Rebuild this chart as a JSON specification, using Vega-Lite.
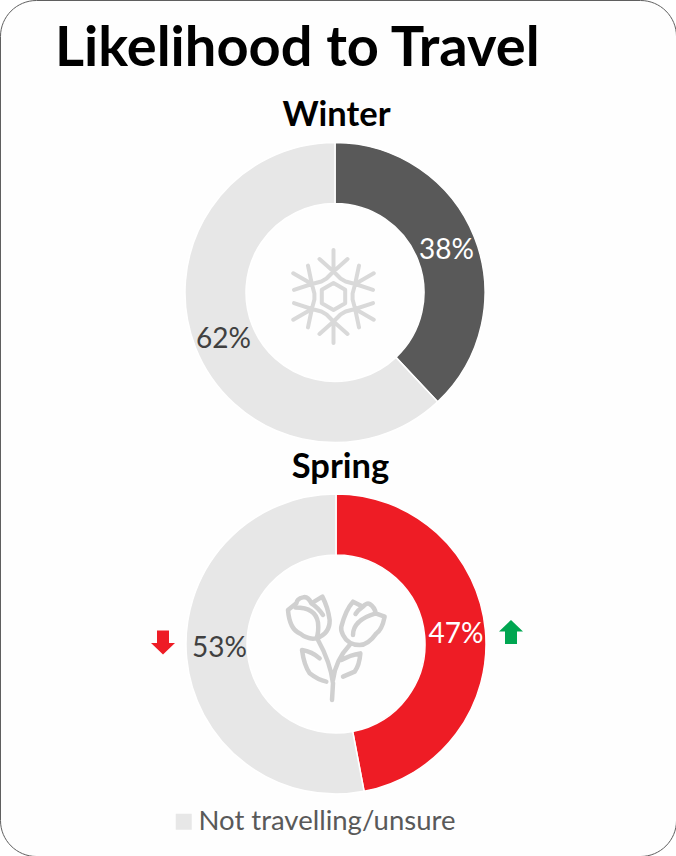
{
"$schema":"https://vega.github.io/schema/vega-lite/v6.json",
"width":676,"height":856,"padding":0,"autosize":{"type":"none"},
"background":"white",
"config":{"view":{"stroke":"#5f5f5f","strokeWidth":1,"cornerRadius":36,"fill":"#fefefe"},"font":"Lato"},
"title":{"text":"Likelihood to Travel","anchor":"start","dx":55,"offset":-78,"fontSize":56,"fontWeight":"bold","font":"Lato","color":"#000000"},
"datasets":{
"shares":[
{"season":"Winter","status":"Travelling in winter","rank":1,"share":0.38},
{"season":"Winter","status":"Not travelling/unsure","rank":2,"share":0.62},
{"season":"Spring","status":"Travelling in spring","rank":1,"share":0.47},
{"season":"Spring","status":"Not travelling/unsure","rank":2,"share":0.53}],
"seasons":[{"season":"Winter"},{"season":"Spring"}],
"changes":[{"direction":"down"},{"direction":"up"}]
},
"data":{"name":"shares"},
"resolve":{"scale":{"x":"independent","y":"independent"}},
"layer":[
{"transform":[{"filter":"datum.season==='Winter'"}],
 "mark":{"type":"arc","radius":150,"radius2":89,"stroke":"white","strokeWidth":1.5},
 "encoding":{
  "x":{"field":"season","type":"nominal","axis":null,"scale":{"domain":["Winter","Spring"],"range":[335,336],"padding":0}},
  "y":{"field":"season","type":"nominal","axis":null,"scale":{"domain":["Winter","Spring"],"range":[292.5,644],"padding":0}},
  "theta":{"field":"share","type":"quantitative","stack":true,"scale":{"domain":[0,1]}},
  "order":{"field":"rank"},
  "color":{"field":"status","type":"nominal","scale":{"domain":["Not travelling/unsure","Travelling in winter","Travelling in spring"],"range":["#e7e7e7","#595959","#ee1c25"]},
   "legend":{"orient":"none","legendX":170,"legendY":808,"title":null,"values":["Not travelling/unsure"],"symbolType":"square","symbolSize":256,"symbolStrokeWidth":0,"labelFontSize":27.5,"labelColor":"#595959","labelFont":"Lato","labelLimit":400,"labelOffset":1}}
 }},
{"transform":[{"filter":"datum.season==='Spring'"}],
 "mark":{"type":"arc","radius":150,"radius2":89,"stroke":"white","strokeWidth":1.5},
 "encoding":{
  "x":{"field":"season","type":"nominal","axis":null,"scale":{"domain":["Winter","Spring"],"range":[335,336],"padding":0}},
  "y":{"field":"season","type":"nominal","axis":null,"scale":{"domain":["Winter","Spring"],"range":[292.5,644],"padding":0}},
  "theta":{"field":"share","type":"quantitative","stack":true,"scale":{"domain":[0,1]}},
  "order":{"field":"rank"},
  "color":{"field":"status","type":"nominal"}
 }},
{"transform":[{"filter":"datum.season==='Winter'"}],
 "mark":{"type":"text","radius":120,"dy":3,"fontSize":28,"font":"Lato"},
 "encoding":{
  "x":{"field":"season","type":"nominal","axis":null,"scale":{"domain":["Winter","Spring"],"range":[335,337],"padding":0}},
  "y":{"field":"season","type":"nominal","axis":null,"scale":{"domain":["Winter","Spring"],"range":[292.5,644],"padding":0}},
  "theta":{"field":"share","type":"quantitative","stack":true,"scale":{"domain":[0,1]}},
  "order":{"field":"rank"},
  "detail":{"field":"status"},
  "text":{"field":"share","type":"quantitative","format":".0%"},
  "color":{"condition":{"test":"datum.rank===1","value":"#ffffff"},"value":"#404040"}
 }},
{"transform":[{"filter":"datum.season==='Spring'"}],
 "mark":{"type":"text","radius":120,"dy":2,"fontSize":28,"font":"Lato","color":"#ffffff"},
 "encoding":{
  "x":{"field":"season","type":"nominal","axis":null,"scale":{"domain":["Winter","Spring"],"range":[335,336.5],"padding":0}},
  "y":{"field":"season","type":"nominal","axis":null,"scale":{"domain":["Winter","Spring"],"range":[292.5,644],"padding":0}},
  "theta":{"field":"share","type":"quantitative","stack":true,"scale":{"domain":[0,1]}},
  "order":{"field":"rank"},
  "detail":{"field":"status"},
  "text":{"condition":{"test":"datum.rank!==1","value":""},"field":"share","type":"quantitative","format":".0%"}
 }},
{"transform":[{"filter":"datum.season==='Spring'"}],
 "mark":{"type":"text","radius":120,"dy":-6,"dx":2,"fontSize":28,"font":"Lato","color":"#404040"},
 "encoding":{
  "x":{"field":"season","type":"nominal","axis":null,"scale":{"domain":["Winter","Spring"],"range":[335,337],"padding":0}},
  "y":{"field":"season","type":"nominal","axis":null,"scale":{"domain":["Winter","Spring"],"range":[292.5,644],"padding":0}},
  "theta":{"field":"share","type":"quantitative","stack":true,"scale":{"domain":[0,1]}},
  "order":{"field":"rank"},
  "detail":{"field":"status"},
  "text":{"condition":{"test":"datum.rank!==2","value":""},"field":"share","type":"quantitative","format":".0%"}
 }},
{"data":{"name":"seasons"},
 "mark":{"type":"text","fontSize":34.5,"fontWeight":"bold","font":"Lato","color":"#000000"},
 "encoding":{
  "x":{"field":"season","type":"nominal","axis":null,"scale":{"domain":["Winter","Spring"],"range":[336.5,340.5],"padding":0}},
  "y":{"field":"season","type":"nominal","axis":null,"scale":{"domain":["Winter","Spring"],"range":[116,468],"padding":0}},
  "text":{"field":"season","type":"nominal"}
 }},
{"data":{"values":[{"season":"Winter"}]},
 "mark":{"type":"point","filled":false,"stroke":"#d9d9d9","strokeWidth":4,"strokeCap":"round","strokeJoin":"round","opacity":1,"size":10000,
 "shape":"M0,-.93L0,-.5M-.28,-.75L0,-.5L.28,-.75M-.14,-.36L0,-.5L.14,-.36L.242,-.301L.433,-.25M.805,-.465L.433,-.25M.51,-.6175L.433,-.25L.79,-.1325M.433,-.25L.382,-.059L.382,.059L.433,.25M.805,.465L.433,.25M.79,.1325L.433,.25L.51,.6175M.433,.25L.242,.301L.14,.36L0,.5M0,.93L0,.5M.28,.75L0,.5L-.28,.75M0,.5L-.14,.36L-.242,.301L-.433,.25M-.805,.465L-.433,.25M-.51,.6175L-.433,.25L-.79,.1325M-.433,.25L-.382,.059L-.382,-.059L-.433,-.25M-.805,-.465L-.433,-.25M-.79,-.1325L-.433,-.25L-.51,-.6175M-.433,-.25L-.242,-.301L-.14,-.36M0,-.27L.234,-.135L.234,.135L0,.27L-.234,.135L-.234,-.135Z"},
 "encoding":{
  "x":{"field":"season","type":"nominal","axis":null,"scale":{"domain":["Winter","Spring"],"range":[333.5,333],"padding":0}},
  "y":{"field":"season","type":"nominal","axis":null,"scale":{"domain":["Winter","Spring"],"range":[296.5,651.5],"padding":0}}
 }},
{"data":{"values":[{"season":"Spring"}]},
 "mark":{"type":"point","filled":false,"stroke":"#d0d0d0","strokeWidth":4.5,"strokeCap":"round","strokeJoin":"round","opacity":1,"size":10000,
 "shape":"M-.9,-.8Q-.87,-.42,-.667,-.333Q-.5,-.2,-.333,-.233Q-.06,-.33,-.067,-.6Q-.1,-.85,-.213,-1.067L-.433,-.933Q-.5,-1.08,-.6,-1.053Q-.72,-1.03,-.733,-.933L-.9,-.8ZM-.75,-.85Q-.35,-.85,-.3,-.55Q-.28,-.35,-.333,-.233M-.433,-.933Q-.3,-.85,-.2,-.7M.167,-.467Q.25,-.8,.4,-.967L.6,-.867Q.68,-.95,.733,-.92Q.84,-.85,.853,-.733L1.033,-.667Q.98,-.4,.867,-.333Q.7,-.1,.533,-.1Q.3,-.1,.2,-.3Q.15,-.4,.167,-.467ZM.4,-.3Q.4,-.6,.853,-.733M.6,-.867Q.5,-.8,.45,-.72M-.3,-.2Q-.05,.25,0,.667L-.02,1M.333,-.1Q.05,.2,0,.6M-.267,.167Q-.42,.03,-.62,0Q-.58,.3,-.467,.467Q-.3,.6,-.133,.633M.167,.2Q.35,.1,.547,.067Q.53,.3,.433,.433L.2,.533"},
 "encoding":{
  "x":{"field":"season","type":"nominal","axis":null,"scale":{"domain":["Winter","Spring"],"range":[333.5,333],"padding":0}},
  "y":{"field":"season","type":"nominal","axis":null,"scale":{"domain":["Winter","Spring"],"range":[296.5,650],"padding":0}}
 }},
{"data":{"name":"changes"},
 "mark":{"type":"point","filled":true,"opacity":1,"size":576,"strokeWidth":0},
 "encoding":{
  "x":{"field":"direction","type":"nominal","axis":null,"scale":{"domain":["down","up"],"range":[163,511],"padding":0}},
  "y":{"field":"direction","type":"nominal","axis":null,"scale":{"domain":["down","up"],"range":[642.5,632],"padding":0}},
  "shape":{"field":"direction","type":"nominal","legend":null,"scale":{"domain":["down","up"],"range":["M-.5,-1L.5,-1L.5,.05L1,.05L0,1L-1,.05L-.5,.05Z","M-.5,1L.5,1L.5,-.05L1,-.05L0,-1L-1,-.05L-.5,-.05Z"]}},
  "fill":{"condition":{"test":"datum.direction==='up'","value":"#00a651"},"value":"#ee1c25"}
 }}
]
}
